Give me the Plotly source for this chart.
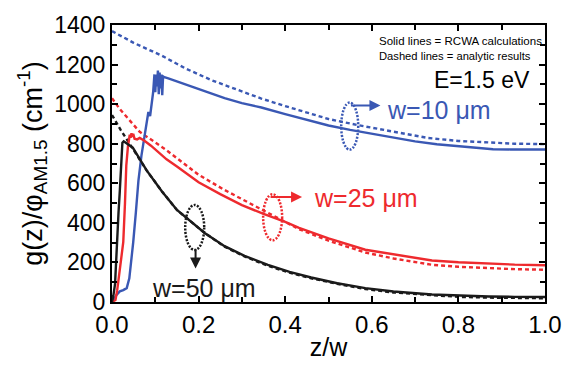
import plotly.graph_objects as go

# ---- data (z/w vs g(z)/phi_AM1.5 in cm^-1) ----
w10_rcwa_z = [0, 0.004, 0.01, 0.018, 0.026, 0.034, 0.04, 0.045, 0.049, 0.055, 0.061, 0.068, 0.076, 0.08,
              0.084, 0.088, 0.092, 0.095, 0.098, 0.1, 0.102, 0.104, 0.106, 0.108, 0.11, 0.112, 0.114, 0.116,
              0.118, 0.121, 0.13, 0.15, 0.175, 0.2, 0.23, 0.26, 0.3, 0.345, 0.4, 0.45, 0.5, 0.55, 0.6, 0.65,
              0.7, 0.75, 0.8, 0.85, 0.88, 0.92, 0.96, 1.0]
w10_rcwa_g = [0, 10, 35, 54, 60, 70, 120, 209, 302, 450, 612, 740, 860, 904,
              960, 940, 997, 1060, 1150, 1060, 1150, 1090, 1170, 1050, 1160, 1080, 1150, 1045,
              1140, 1136, 1130, 1115, 1095, 1074, 1051, 1030, 1005, 983, 950, 922, 892, 870, 850, 830,
              812, 797, 786, 777, 772, 771, 771, 771]
w10_anal_z = [0, 0.05, 0.115, 0.17, 0.23, 0.29, 0.345, 0.4, 0.5, 0.57, 0.65, 0.73, 0.8, 0.87, 0.93, 1.0]
w10_anal_g = [1369, 1310, 1245, 1180, 1121, 1072, 1028, 990, 925, 893, 860, 829, 814, 805, 800, 798]

w25_rcwa_z = [0, 0.008, 0.012, 0.017, 0.022, 0.026, 0.03, 0.033, 0.037, 0.041, 0.043, 0.045, 0.047, 0.049,
              0.052, 0.058, 0.064, 0.075, 0.09, 0.11, 0.126, 0.15, 0.2, 0.25, 0.3, 0.35, 0.4, 0.432, 0.5,
              0.585, 0.65, 0.739, 0.8, 0.87, 0.93, 1.0]
w25_rcwa_g = [0, 10, 60, 148, 240, 302, 500, 690, 790, 845, 830, 853, 835, 850,
              825, 822, 829, 815, 790, 750, 721, 685, 605, 545, 490, 445, 405, 375, 322,
              264, 240, 210, 201, 194, 189, 186]
w25_anal_z = [0, 0.018, 0.064, 0.126, 0.2, 0.26, 0.34, 0.432, 0.5, 0.585, 0.65, 0.739, 0.8, 0.87, 0.93, 1.0]
w25_anal_g = [1030, 975, 860, 767, 643, 566, 474, 368, 310, 250, 220, 188, 178, 170, 166, 163]

w50_rcwa_z = [0, 0.003, 0.007, 0.011, 0.015, 0.018, 0.021, 0.024, 0.027, 0.035, 0.048, 0.08, 0.115, 0.15,
              0.214, 0.26, 0.306, 0.36, 0.41, 0.46, 0.52, 0.585, 0.65, 0.739, 0.8, 0.87, 0.93, 1.0]
w50_rcwa_g = [0, 30, 90, 302, 450, 560, 700, 805, 812, 800, 780, 665, 560, 465,
              349, 282, 233, 188, 152, 124, 95, 70, 53, 38, 32, 28, 26, 25]
w50_anal_z = [0, 0.02, 0.048, 0.08, 0.115, 0.15, 0.214, 0.26, 0.306, 0.36, 0.41, 0.46, 0.52, 0.585,
              0.65, 0.739, 0.8, 0.87, 0.93, 1.0]
w50_anal_g = [945, 870, 775, 665, 560, 465, 349, 280, 230, 183, 148, 120, 92, 66,
              48, 33, 26, 22, 20, 19]

x_ticks = [0.0, 0.2, 0.4, 0.6, 0.8, 1.0]
x_tick_labels = ["0.0", "0.2", "0.4", "0.6", "0.8", "1.0"]
y_ticks = [0, 200, 400, 600, 800, 1000, 1200, 1400]

BLUE = "#3a58b4"
RED = "#ee2a2e"
BLACK = "#1a1a1a"
DASH = "4px,3px"
FONT = "Liberation Sans, Arial, sans-serif"

fig = go.Figure()
series = [
    (w10_anal_z, w10_anal_g, BLUE, DASH),
    (w25_anal_z, w25_anal_g, RED, DASH),
    (w50_anal_z, w50_anal_g, BLACK, DASH),
    (w10_rcwa_z, w10_rcwa_g, BLUE, "solid"),
    (w25_rcwa_z, w25_rcwa_g, RED, "solid"),
    (w50_rcwa_z, w50_rcwa_g, BLACK, "solid"),
]
for xs, ys, col, dash in series:
    fig.add_trace(go.Scatter(x=xs, y=ys, mode="lines",
                             line=dict(color=col, width=2.4, dash=dash),
                             showlegend=False, hoverinfo="skip"))

axis_common = dict(showline=True, linecolor="black", linewidth=2, mirror="ticks",
                   ticks="inside", ticklen=6, tickwidth=1.5, tickcolor="black",
                   showgrid=False, zeroline=False)
fig.update_xaxes(range=[0, 1], tickvals=x_ticks, ticktext=x_tick_labels,
                 tickfont=dict(family=FONT, size=24, color="black"),
                 minor=dict(dtick=0.1, ticklen=5, tickwidth=1.5, tickcolor="black", ticks="inside"),
                 title=dict(text="z/w", font=dict(family=FONT, size=25, color="black"), standoff=2),
                 **axis_common)
fig.update_yaxes(range=[0, 1400], tickvals=y_ticks,
                 tickfont=dict(family=FONT, size=23, color="black"),
                 minor=dict(dtick=100, ticklen=5, tickwidth=1.5, tickcolor="black", ticks="inside"),
                 title=dict(text="g(z)/φ<sub>AM1.5</sub> (cm<sup>-1</sup>)",
                            font=dict(family=FONT, size=27, color="black"), standoff=4),
                 **axis_common)

# text annotations (paper coords)
def ann(text, x, y, xanchor, size, color):
    fig.add_annotation(text=text, x=x, y=y, xref="paper", yref="paper", xanchor=xanchor,
                       yanchor="middle", showarrow=False,
                       font=dict(family=FONT, size=size, color=color))

ann("Solid lines = RCWA calculations", 0.997, 0.943, "right", 11.5, "black")
ann("Dashed lines = analytic results", 0.972, 0.887, "right", 11.2, "black")
ann("E=1.5 eV", 0.971, 0.800, "right", 23, "black")
ann("w=10 μm", 0.630, 0.692, "left", 25, BLUE)
ann("w=25 μm", 0.463, 0.376, "left", 25, RED)
ann("w=50 μm", 0.088, 0.050, "left", 25, BLACK)

# ellipses (dotted) marking each curve pair
def ellipse(cx, cy, wpx, hpx, color):
    fig.add_shape(type="circle", xref="paper", yref="paper",
                  xsizemode="pixel", ysizemode="pixel", xanchor=cx, yanchor=cy,
                  x0=-wpx / 2, x1=wpx / 2, y0=-hpx / 2, y1=hpx / 2,
                  line=dict(color=color, width=2.5, dash="2px,1.5px"))

ellipse(0.549, 0.635, 17, 47, BLUE)
ellipse(0.371, 0.306, 19, 46, RED)
ellipse(0.191, 0.269, 19, 45, BLACK)

# arrows from ellipses to labels
def arrow(hx, hy, ax, ay, color):
    fig.add_annotation(text="", x=hx, y=hy, xref="paper", yref="paper", ax=ax, ay=ay,
                       showarrow=True, arrowhead=2, arrowsize=1.1, arrowwidth=2,
                       arrowcolor=color, standoff=0, startstandoff=0)

arrow(0.620, 0.709, -31, 0, BLUE)
arrow(0.439, 0.379, -33, 0, RED)
arrow(0.193, 0.121, 0, -21, BLACK)

fig.update_layout(width=574, height=369,
                  margin=dict(l=112, r=27, t=14, b=54),
                  paper_bgcolor="white", plot_bgcolor="white",
                  font=dict(family=FONT, color="black"))

fig.write_html("out.html")
